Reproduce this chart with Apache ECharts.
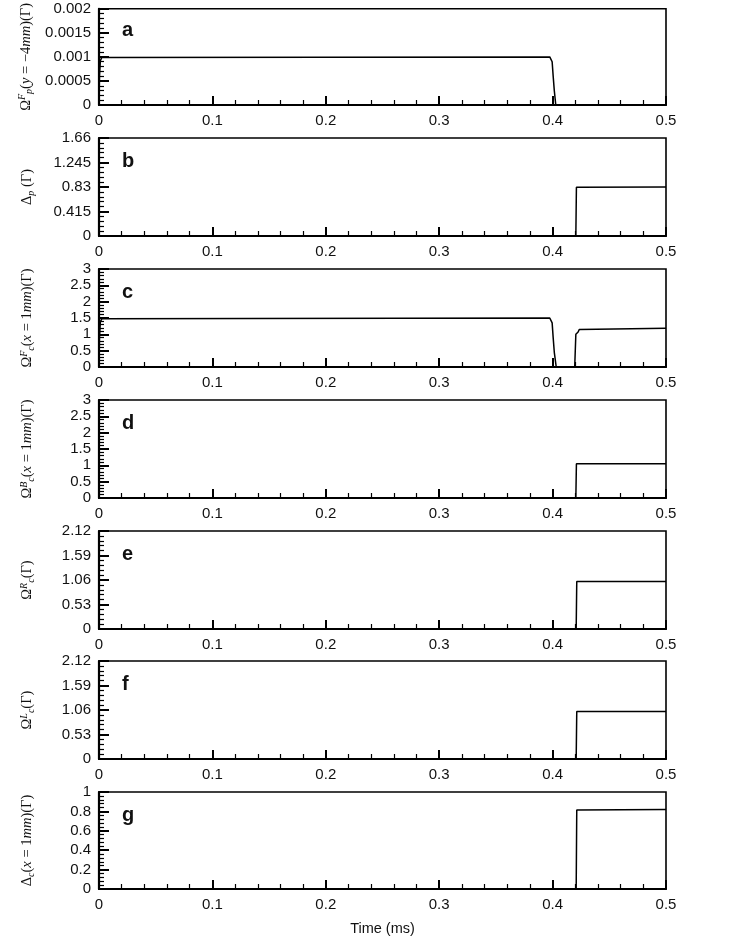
<!DOCTYPE html>
<html><head><meta charset="utf-8">
<script src="https://cdn.jsdelivr.net/npm/echarts@6/dist/echarts.min.js"></script>
<style>html,body{margin:0;padding:0;background:#fff}#c{width:748px;height:937px}</style>
</head><body><div id="c"></div>
<script>
// ---- data ----
const panelLetters = ['a','b','c','d','e','f','g'];
const xTicks = [0, 0.1, 0.2, 0.3, 0.4, 0.5];

const timeA = [0, 0.0004, 0.0012, 0.0025, 0.004, 0.3975, 0.3988, 0.3996, 0.4005, 0.4015, 0.4028, 0.5];
const valA  = [0, 0.0006, 0.00092, 0.00099, 0.001, 0.001, 0.00098, 0.0009, 0.0006, 0.0003, 0, 0];

const timeB = [0, 0.4205, 0.4210, 0.4218, 0.5];
const valB  = [0, 0, 0.825, 0.83, 0.83];

const timeC = [0, 0.0004, 0.0012, 0.0025, 0.004, 0.3975, 0.3988, 0.3996, 0.4005, 0.4015, 0.4032, 0.4195, 0.4205, 0.4225, 0.4235, 0.4245, 0.5];
const valC  = [0, 0.9, 1.38, 1.48, 1.5, 1.5, 1.47, 1.35, 0.9, 0.45, 0, 0, 1.0, 1.07, 1.15, 1.19, 1.19];

const timeD = [0, 0.4205, 0.4210, 0.4218, 0.5];
const valD  = [0, 0, 1.045, 1.05, 1.05];

const timeE = [0, 0.4208, 0.4213, 0.4222, 0.5];
const valE  = [0, 0, 1.025, 1.03, 1.03];

const timeF = [0, 0.4208, 0.4213, 0.4222, 0.5];
const valF  = [0, 0, 1.025, 1.03, 1.03];

const timeG = [0, 0.4208, 0.4213, 0.4222, 0.5];
const valG  = [0, 0, 0.815, 0.82, 0.82];

const yMin = [0, 0, 0, 0, 0, 0, 0];
const yMax = [0.002, 1.66, 3, 3, 2.12, 2.12, 1];
const yInterval = [0.0005, 0.415, 0.5, 0.5, 0.53, 0.53, 0.2];

const yNames = [
  '{m|Ω}{supi|F}{subi|p}{m|(}{i|y}{m| = −4}{i|mm}{m|)(Γ)}',
  '{m|Δ}{subi|p}{m| (Γ)}',
  '{m|Ω}{supi|F}{subi|c}{m|(}{i|x}{m| = 1}{i|mm}{m|)(Γ)}',
  '{m|Ω}{supi|B}{subi|c}{m|(}{i|x}{m| = 1}{i|mm}{m|)(Γ)}',
  '{m|Ω}{supi|R}{subi|c}{m|(Γ)}',
  '{m|Ω}{supi|L}{subi|c}{m|(Γ)}',
  '{m|Δ}{subi|c}{m|(}{i|x}{m| = 1}{i|mm}{m|)(Γ)}'
];
const xName = 'Time (ms)';

// ---- layout ----
const tops = [7, 138, 269, 400, 531, 661, 792];
const gridH = 98;
const times = [timeA, timeB, timeC, timeD, timeE, timeF, timeG];
const vals  = [valA, valB, valC, valD, valE, valF, valG];

const serif = 'Liberation Serif';
const ink = '#111';
const rich = {
  m: {fontFamily: serif, fontSize: 14.5, color: ink},
  i: {fontFamily: serif, fontSize: 14.5, fontStyle: 'italic', color: ink},
  supi: {fontFamily: serif, fontSize: 10, fontStyle: 'italic', color: ink, verticalAlign: 'top', lineHeight: 17},
  subi: {fontFamily: serif, fontSize: 10, fontStyle: 'italic', color: ink, verticalAlign: 'bottom', lineHeight: 17}
};

function fmtY(v) { return String(+v.toFixed(6)); }

const grids = [], xAxes = [], yAxes = [], series = [], titles = [];
for (let k = 0; k < 7; k++) {
  grids.push({left: 99, right: 82, top: tops[k], height: gridH, show: true,
    borderColor: '#000', borderWidth: 1.6, backgroundColor: 'transparent'});
  xAxes.push({
    type: 'value', gridIndex: k, min: 0, max: 0.5, interval: 0.1,
    name: k === 6 ? xName : '', nameLocation: 'middle', nameGap: 32,
    nameTextStyle: {fontFamily: 'Liberation Sans', fontSize: 14.5, color: ink},
    axisLine: {show: true, onZero: false, lineStyle: {color: '#000', width: 2.2}},
    axisTick: {show: true, inside: true, length: 9, lineStyle: {color: '#000', width: 2}},
    minorTick: {show: true, splitNumber: 5, length: 5, lineStyle: {color: '#000', width: 1.2}},
    splitLine: {show: false}, minorSplitLine: {show: false},
    axisLabel: {fontFamily: 'Liberation Sans', fontSize: 15, color: ink, margin: 8,
      formatter: v => String(+v.toFixed(3))}
  });
  yAxes.push({
    type: 'value', gridIndex: k, min: yMin[k], max: yMax[k], interval: yInterval[k],
    name: yNames[k], nameLocation: 'middle', nameGap: 63, nameRotate: 90,
    nameTextStyle: {rich: rich},
    axisLine: {show: true, onZero: false, lineStyle: {color: '#000', width: 2.2}},
    axisTick: {show: true, inside: true, length: 10, lineStyle: {color: '#000', width: 2}},
    minorTick: {show: true, splitNumber: 5, length: 5, lineStyle: {color: '#000', width: 1.2}},
    splitLine: {show: false}, minorSplitLine: {show: false},
    axisLabel: {fontFamily: 'Liberation Sans', fontSize: 15, color: ink, margin: 8, formatter: fmtY}
  });
  series.push({
    type: 'line', xAxisIndex: k, yAxisIndex: k, showSymbol: false, symbol: 'none',
    data: times[k].map((t, i) => [t, vals[k][i]]),
    lineStyle: {color: '#000', width: 1.5}, animation: false, clip: true
  });
  titles.push({text: panelLetters[k], left: 117, top: tops[k] + 8,
    textStyle: {fontFamily: 'Liberation Sans', fontWeight: 'bold', fontSize: 20, color: ink}});
}

const chart = echarts.init(document.getElementById('c'), null, {renderer: 'canvas'});
chart.setOption({
  backgroundColor: '#fff',
  animation: false,
  title: titles,
  grid: grids, xAxis: xAxes, yAxis: yAxes, series: series
});
</script></body></html>
